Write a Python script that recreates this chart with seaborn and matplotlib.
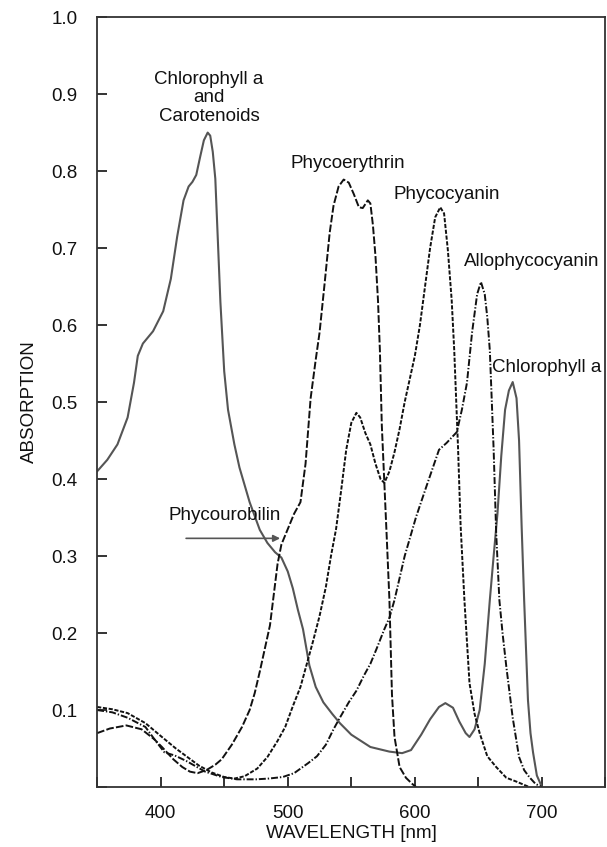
import matplotlib
matplotlib.use("Agg")
import matplotlib.pyplot as plt
import seaborn as sns

# Absorption spectra of photosynthetic pigments (wavelength in nm, relative absorption)
chl_wl = [350, 358, 366, 374, 379, 382, 386, 394, 402, 408, 413, 418, 422, 425, 428, 431,
          434, 437, 439, 441, 443, 445, 447, 450, 453, 458, 462, 470, 478, 484, 490, 495,
          500, 504, 508, 512, 517, 522, 528, 535, 541, 550, 565, 580, 590, 597, 605, 612,
          619, 624, 630, 635, 640, 643, 647, 651, 655, 659, 662, 665, 668, 671, 674, 677,
          680, 682, 684, 686, 689, 691, 693, 696, 700]
chl_abs = [0.410, 0.425, 0.445, 0.480, 0.525, 0.560, 0.576, 0.592, 0.618, 0.660, 0.715, 0.762,
           0.780, 0.786, 0.795, 0.818, 0.840, 0.850, 0.846, 0.825, 0.790, 0.710, 0.630, 0.540,
           0.490, 0.445, 0.415, 0.370, 0.334, 0.317, 0.305, 0.298, 0.280, 0.258, 0.230, 0.205,
           0.158, 0.130, 0.110, 0.095, 0.083, 0.068, 0.052, 0.046, 0.044, 0.048, 0.068, 0.088,
           0.104, 0.109, 0.103, 0.085, 0.070, 0.065, 0.075, 0.100, 0.160, 0.243, 0.300, 0.355,
           0.430, 0.490, 0.515, 0.526, 0.505, 0.450, 0.340, 0.243, 0.113, 0.070, 0.045, 0.015,
           0.000]

pe_wl = [350, 360, 373, 385, 395, 401, 410, 417, 423, 429, 436, 443, 448, 456, 464, 470,
         474, 478, 482, 486, 489, 492, 495, 500, 505, 510, 514, 518, 522, 525, 529, 533,
         536, 540, 544, 548, 552, 556, 559, 563, 565, 567, 569, 571, 572.5, 574, 576, 578,
         580, 582, 584, 588, 593, 598, 601]
pe_abs = [0.070, 0.076, 0.080, 0.075, 0.062, 0.052, 0.036, 0.026, 0.020, 0.018, 0.022, 0.029,
          0.036, 0.055, 0.078, 0.100, 0.122, 0.150, 0.180, 0.210, 0.250, 0.290, 0.315, 0.335,
          0.355, 0.370, 0.420, 0.505, 0.555, 0.590, 0.654, 0.720, 0.755, 0.780, 0.789, 0.785,
          0.770, 0.753, 0.752, 0.762, 0.758, 0.730, 0.690, 0.632, 0.567, 0.470, 0.395, 0.320,
          0.243, 0.120, 0.065, 0.026, 0.012, 0.004, 0.000]

pc_wl = [350, 362, 374, 388, 401, 412, 421, 430, 440, 450, 458, 466, 476, 484, 492, 498,
         504, 510, 515, 520, 525, 530, 534, 538, 542, 546, 550, 554, 557, 561, 565, 569,
         573, 576, 580, 584, 588, 592, 596, 600, 604, 608, 612, 616, 620, 623, 626, 629,
         631, 634, 636, 639, 643, 647, 651, 657, 664, 672, 680, 690]
pc_abs = [0.104, 0.101, 0.096, 0.083, 0.065, 0.050, 0.039, 0.028, 0.019, 0.013, 0.011, 0.014,
          0.024, 0.039, 0.060, 0.078, 0.105, 0.130, 0.160, 0.190, 0.222, 0.260, 0.300, 0.335,
          0.385, 0.438, 0.473, 0.486, 0.480, 0.460, 0.445, 0.420, 0.400, 0.395, 0.410, 0.435,
          0.465, 0.500, 0.530, 0.560, 0.600, 0.650, 0.700, 0.740, 0.753, 0.745, 0.697, 0.632,
          0.567, 0.440, 0.340, 0.243, 0.135, 0.095, 0.070, 0.040, 0.026, 0.012, 0.007, 0.000]

apc_wl = [350, 362, 374, 388, 396, 403, 411, 420, 435, 448, 460, 475, 485, 496, 505, 516,
          523, 530, 536, 541, 548, 554, 560, 565, 570, 576, 580, 584, 592, 601, 609, 619,
          625, 633, 637, 641, 645, 649, 652, 655, 657, 659, 660.5, 662, 664, 666.5, 669, 672,
          677, 682, 686, 690, 695, 700]
apc_abs = [0.100, 0.097, 0.090, 0.078, 0.060, 0.045, 0.041, 0.034, 0.020, 0.013, 0.010, 0.010,
           0.011, 0.013, 0.018, 0.031, 0.040, 0.055, 0.075, 0.090, 0.110, 0.125, 0.145, 0.160,
           0.180, 0.205, 0.220, 0.243, 0.300, 0.351, 0.390, 0.438, 0.447, 0.461, 0.490, 0.525,
           0.590, 0.640, 0.656, 0.640, 0.610, 0.567, 0.503, 0.438, 0.330, 0.243, 0.200, 0.156,
           0.090, 0.039, 0.022, 0.013, 0.004, 0.000]

x_ticks = [350, 400, 450, 500, 550, 600, 650, 700, 750]
x_tick_labels = ["", "400", "", "500", "", "600", "", "700", ""]
y_ticks = [0.0, 0.1, 0.2, 0.3, 0.4, 0.5, 0.6, 0.7, 0.8, 0.9, 1.0]
y_tick_labels = ["", "0.1", "0.2", "0.3", "0.4", "0.5", "0.6", "0.7", "0.8", "0.9", "1.0"]

sns.set_style("ticks")
plt.rcParams["font.family"] = ["Liberation Sans", "DejaVu Sans"]
plt.rcParams["lines.scale_dashes"] = False

fig = plt.figure(figsize=(6.07, 8.47), dpi=100)
ax = fig.add_axes([0.16, 0.0708, 0.8375, 0.909])

ink = "#111111"
gray = "#555555"
fs = 13.5

sns.lineplot(x=chl_wl, y=chl_abs, ax=ax, color=gray, lw=1.5, estimator=None, sort=False)
sns.lineplot(x=pe_wl, y=pe_abs, ax=ax, color=ink, lw=1.4, estimator=None, sort=False,
             linestyle=(0, (5.5, 1.6)))
sns.lineplot(x=pc_wl, y=pc_abs, ax=ax, color=ink, lw=1.4, estimator=None, sort=False,
             linestyle=(0, (3.0, 1.2)))
sns.lineplot(x=apc_wl, y=apc_abs, ax=ax, color=ink, lw=1.4, estimator=None, sort=False,
             linestyle=(0, (5.0, 1.4, 1.0, 1.4)))

ax.set_xlim(350, 750)
ax.set_ylim(0, 1.0)
ax.set_xticks(x_ticks)
ax.set_xticklabels(x_tick_labels)
ax.set_yticks(y_ticks)
ax.set_yticklabels(y_tick_labels)
ax.tick_params(axis="both", direction="in", length=7, width=1.2, colors=ink,
               labelsize=fs, labelcolor=ink)
ax.tick_params(axis="x", pad=13)
ax.tick_params(axis="y", pad=14)
for side in ["left", "right", "top", "bottom"]:
    ax.spines[side].set_visible(True)
    ax.spines[side].set_linewidth(1.3)
    ax.spines[side].set_color("#333333")

ax.set_xlabel("WAVELENGTH [nm]", fontsize=fs, color=ink, labelpad=2)
ax.set_ylabel("ABSORPTION", fontsize=fs, color=ink, labelpad=10)

lab = dict(fontsize=fs, color=ink)
ax.text(438, 0.895, "Chlorophyll a\nand\nCarotenoids", ha="center", va="center",
        linespacing=1.1, **lab)
ax.text(547, 0.81, "Phycoerythrin", ha="center", va="center", **lab)
ax.text(625, 0.77, "Phycocyanin", ha="center", va="center", **lab)
ax.text(692, 0.682, "Allophycocyanin", ha="center", va="center", **lab)
ax.text(661, 0.545, "Chlorophyll a", ha="left", va="center", **lab)
ax.text(450, 0.353, "Phycourobilin", ha="center", va="center", **lab)
ax.annotate("", xy=(494, 0.323), xytext=(420, 0.323),
            arrowprops=dict(arrowstyle="-|>", color=gray, lw=1.2,
                            mutation_scale=10, shrinkA=0, shrinkB=0))

fig.savefig("out.png", dpi=100)
